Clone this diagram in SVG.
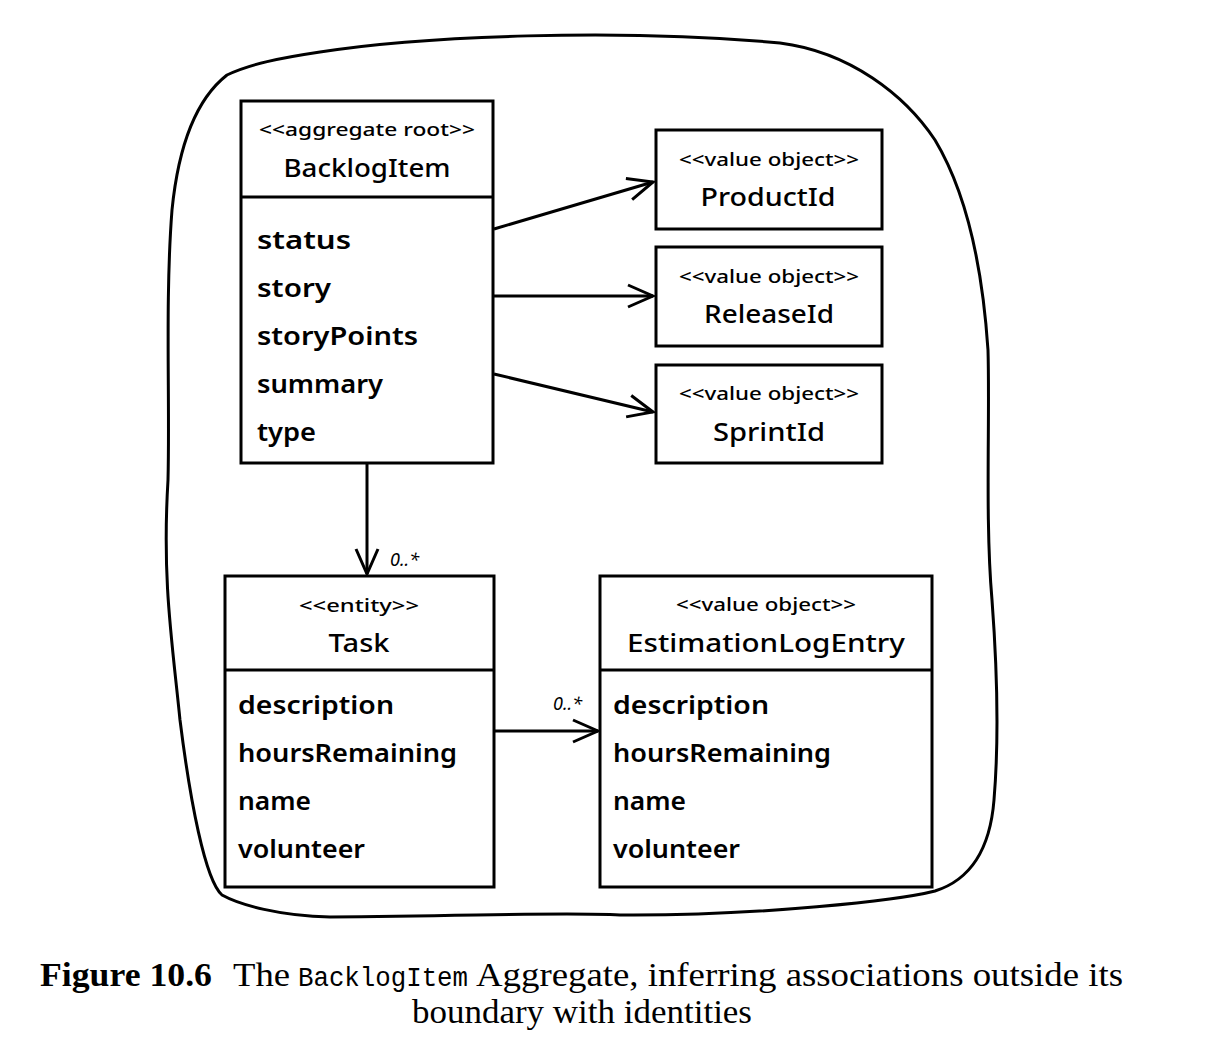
<svg xmlns="http://www.w3.org/2000/svg" width="1216" height="1048" viewBox="0 0 1216 1048">
<defs>
<style>
.box{fill:#fff;stroke:#000;stroke-width:3}
.div{stroke:#000;stroke-width:3}
.st{font-family:"Noto Sans","DejaVu Sans",sans-serif;font-size:18px;font-weight:500;text-anchor:middle;fill:#000}
.nm{font-family:"Noto Sans","DejaVu Sans",sans-serif;font-size:26px;font-weight:500;text-anchor:middle;fill:#000}
.at{font-family:"Noto Sans","DejaVu Sans",sans-serif;font-size:25px;font-weight:600;fill:#000}
.ml{font-family:"Noto Sans","DejaVu Sans",sans-serif;font-size:18px;font-style:italic;fill:#000}
.cn{fill:none;stroke:#000;stroke-width:3}
.cap{font-family:"Liberation Serif",serif;font-size:33px;fill:#000}
</style>
<marker id="arr" markerWidth="30" markerHeight="30" refX="27" refY="12" orient="auto" markerUnits="userSpaceOnUse" viewBox="0 0 30 24">
<path d="M2 1 L27 12 L2 23" fill="none" stroke="#000" stroke-width="3"/>
</marker>
</defs>
<rect width="1216" height="1048" fill="#fff"/>
<g id="boundary">
<path d="M227 75 C250 64 280 58 320 52 C420 36 620 28 780 43 C850 52 905 95 935 140 C965 190 982 260 988 350 C990 420 985 520 992 600 C998 680 999 740 994 800 C990 850 970 880 935 891 C900 900 760 916 620 915 C560 912 480 916 330 917 C280 916 240 905 222 895 C205 880 190 800 180 720 C172 640 162 580 168 480 C170 400 165 300 172 210 C178 150 195 100 227 75 Z" fill="none" stroke="#000" stroke-width="3"/>
</g>
<g id="connectors">
<line class="cn" x1="494" y1="229" x2="653" y2="182" marker-end="url(#arr)"/>
<line class="cn" x1="494" y1="296" x2="653" y2="296" marker-end="url(#arr)"/>
<line class="cn" x1="494" y1="374" x2="653" y2="412" marker-end="url(#arr)"/>
<line class="cn" x1="367" y1="463" x2="367" y2="574" marker-end="url(#arr)"/>
<line class="cn" x1="494" y1="731" x2="598" y2="731" marker-end="url(#arr)"/>
<text class="ml" x="390" y="566">0..*</text>
<text class="ml" x="553" y="710">0..*</text>
</g>
<g id="backlogitem">
<rect class="box" x="241" y="101" width="252" height="362"/>
<line class="div" x1="241" y1="197" x2="493" y2="197"/>
<text class="st" x="367" y="136" textLength="216" lengthAdjust="spacingAndGlyphs">&lt;&lt;aggregate root&gt;&gt;</text>
<text class="nm" x="367" y="177" textLength="167" lengthAdjust="spacingAndGlyphs">BacklogItem</text>
<text class="at" x="257" y="249" textLength="94" lengthAdjust="spacingAndGlyphs">status</text>
<text class="at" x="257" y="297" textLength="74" lengthAdjust="spacingAndGlyphs">story</text>
<text class="at" x="257" y="345" textLength="161" lengthAdjust="spacingAndGlyphs">storyPoints</text>
<text class="at" x="257" y="393" textLength="126" lengthAdjust="spacingAndGlyphs">summary</text>
<text class="at" x="257" y="441" textLength="59" lengthAdjust="spacingAndGlyphs">type</text>
</g>
<g id="productid">
<rect class="box" x="656" y="130" width="226" height="99"/>
<text class="st" x="769" y="166" textLength="180" lengthAdjust="spacingAndGlyphs">&lt;&lt;value object&gt;&gt;</text>
<text class="nm" x="768" y="206" textLength="135" lengthAdjust="spacingAndGlyphs">ProductId</text>
</g>
<g id="releaseid">
<rect class="box" x="656" y="247" width="226" height="99"/>
<text class="st" x="769" y="283" textLength="180" lengthAdjust="spacingAndGlyphs">&lt;&lt;value object&gt;&gt;</text>
<text class="nm" x="769" y="323" textLength="130" lengthAdjust="spacingAndGlyphs">ReleaseId</text>
</g>
<g id="sprintid">
<rect class="box" x="656" y="365" width="226" height="98"/>
<text class="st" x="769" y="400" textLength="180" lengthAdjust="spacingAndGlyphs">&lt;&lt;value object&gt;&gt;</text>
<text class="nm" x="769" y="441" textLength="112" lengthAdjust="spacingAndGlyphs">SprintId</text>
</g>
<g id="task">
<rect class="box" x="225" y="576" width="269" height="311"/>
<line class="div" x1="225" y1="670" x2="494" y2="670"/>
<text class="st" x="359" y="612" textLength="120" lengthAdjust="spacingAndGlyphs">&lt;&lt;entity&gt;&gt;</text>
<text class="nm" x="359" y="652" textLength="61" lengthAdjust="spacingAndGlyphs">Task</text>
<text class="at" x="238" y="714" textLength="156" lengthAdjust="spacingAndGlyphs">description</text>
<text class="at" x="238" y="762" textLength="219" lengthAdjust="spacingAndGlyphs">hoursRemaining</text>
<text class="at" x="238" y="810" textLength="73" lengthAdjust="spacingAndGlyphs">name</text>
<text class="at" x="238" y="858" textLength="127" lengthAdjust="spacingAndGlyphs">volunteer</text>
</g>
<g id="estimationlogentry">
<rect class="box" x="600" y="576" width="332" height="311"/>
<line class="div" x1="600" y1="670" x2="932" y2="670"/>
<text class="st" x="766" y="611" textLength="180" lengthAdjust="spacingAndGlyphs">&lt;&lt;value object&gt;&gt;</text>
<text class="nm" x="766" y="652" textLength="278" lengthAdjust="spacingAndGlyphs">EstimationLogEntry</text>
<text class="at" x="613" y="714" textLength="156" lengthAdjust="spacingAndGlyphs">description</text>
<text class="at" x="613" y="762" textLength="218" lengthAdjust="spacingAndGlyphs">hoursRemaining</text>
<text class="at" x="613" y="810" textLength="73" lengthAdjust="spacingAndGlyphs">name</text>
<text class="at" x="613" y="858" textLength="127" lengthAdjust="spacingAndGlyphs">volunteer</text>
</g>
<g id="caption">
<text class="cap" x="40" y="986" font-weight="bold" textLength="172" lengthAdjust="spacingAndGlyphs">Figure 10.6</text>
<text class="cap" x="233" y="986" textLength="57" lengthAdjust="spacingAndGlyphs">The</text>
<text x="298" y="986" font-family="Liberation Mono,monospace" font-size="27" textLength="170" lengthAdjust="spacingAndGlyphs">BacklogItem</text>
<text class="cap" x="476" y="986" textLength="647" lengthAdjust="spacingAndGlyphs">Aggregate, inferring associations outside its</text>
<text class="cap" x="412" y="1023" textLength="340" lengthAdjust="spacingAndGlyphs">boundary with identities</text>
</g>
</svg>
